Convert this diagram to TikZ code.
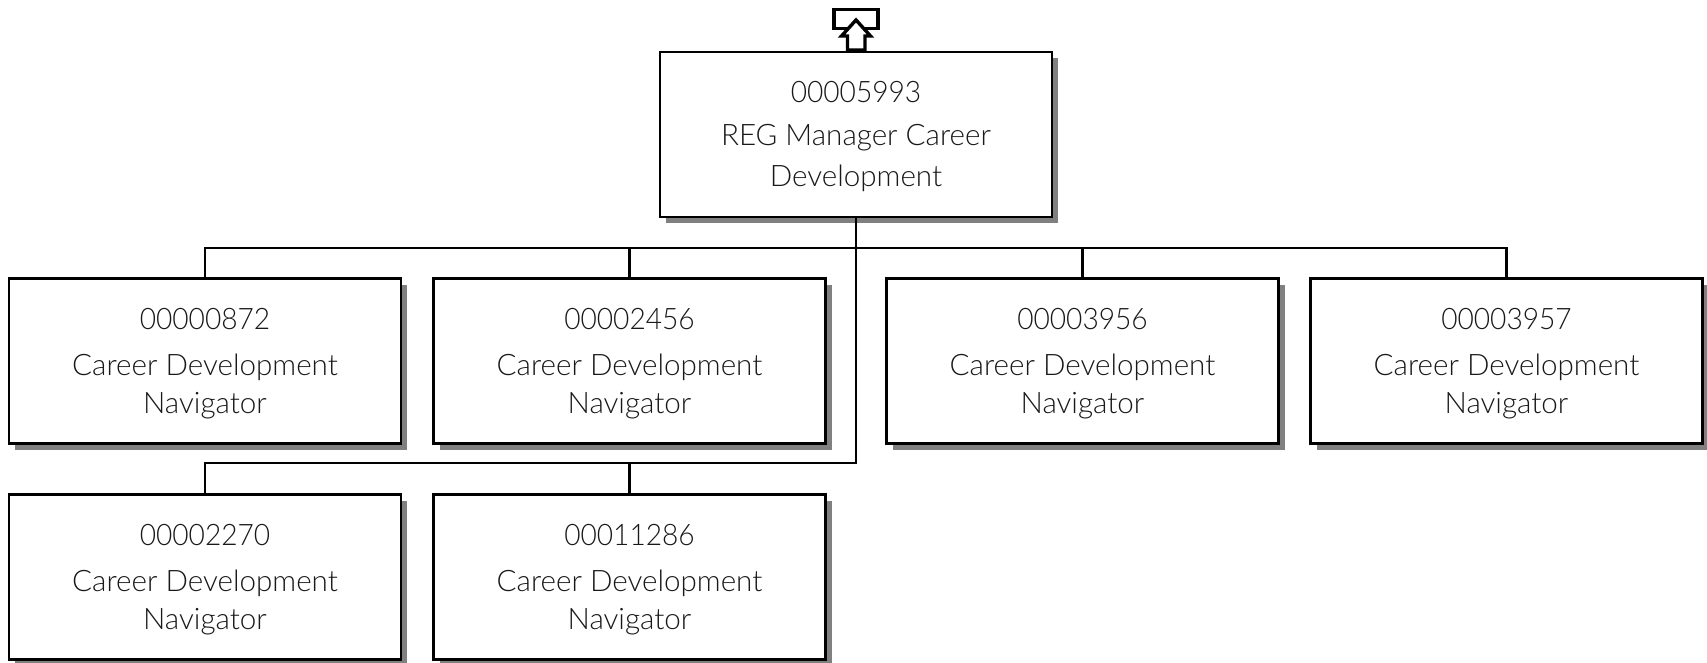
\documentclass[tikz,border=0pt]{standalone}
\usepackage{graphicx}
\usepackage{fontspec}
\setmainfont{Lato Light}
\usetikzlibrary{shadows}
\newcommand{\posnum}[1]{\rule{0pt}{26pt}\scalebox{.95}[1]{#1}}
\tikzset{
  posbox/.style={draw=black, line width=2.5pt, fill=white, minimum width=392pt, minimum height=165pt, inner sep=0pt, align=center, font=\fontsize{29.6}{38}\selectfont, text=black!90,
    copy shadow={shadow xshift=6pt, shadow yshift=-6pt, fill=black!50, draw=none}},
  conn/.style={draw=black, line width=2.5pt, line cap=rect},
  iconline/.style={draw=black, line width=3.4pt, miter limit=10}
}
\begin{document}
\begin{tikzpicture}[x=1pt,y=-1pt]
\useasboundingbox[fill=white] (0,0) rectangle (1707,663);
\coordinate (hubA) at (856,248);
\coordinate (hubB) at (856,463);
\node[posbox] (top) at (856,134.5) {\posnum{00005993}\\[5pt]REG Manager Career\\[3pt]Development};
\node[posbox] (a) at (205,361) {\posnum{00000872}\\[8pt]Career Development\\Navigator};
\node[posbox] (b) at (629.5,361) {\posnum{00002456}\\[8pt]Career Development\\Navigator};
\node[posbox] (c) at (1082.5,361) {\posnum{00003956}\\[8pt]Career Development\\Navigator};
\node[posbox] (d) at (1506.5,361) {\posnum{00003957}\\[8pt]Career Development\\Navigator};
\node[posbox] (e) at (205,577) {\posnum{00002270}\\[8pt]Career Development\\Navigator};
\node[posbox] (f) at (629.5,577) {\posnum{00011286}\\[8pt]Career Development\\Navigator};
\draw[conn] (top.south) -- (hubB);
\draw[conn] (a.north) |- (hubA);
\draw[conn] (b.north) |- (hubA);
\draw[conn] (c.north) |- (hubA);
\draw[conn] (d.north) |- (hubA);
\draw[conn] (e.north) |- (hubB);
\draw[conn] (f.north) |- (hubB);
\node[draw=black, line width=3.4pt, fill=white, minimum width=44pt, minimum height=19pt, inner sep=0pt] (upbox) at (856,19) {};
\draw[iconline, fill=white] (856,20) -- (870.5,36) -- (865,36) -- (865,50) -- (847.5,50) -- (847.5,36) -- (841.5,36) -- cycle;
\end{tikzpicture}
\end{document}
